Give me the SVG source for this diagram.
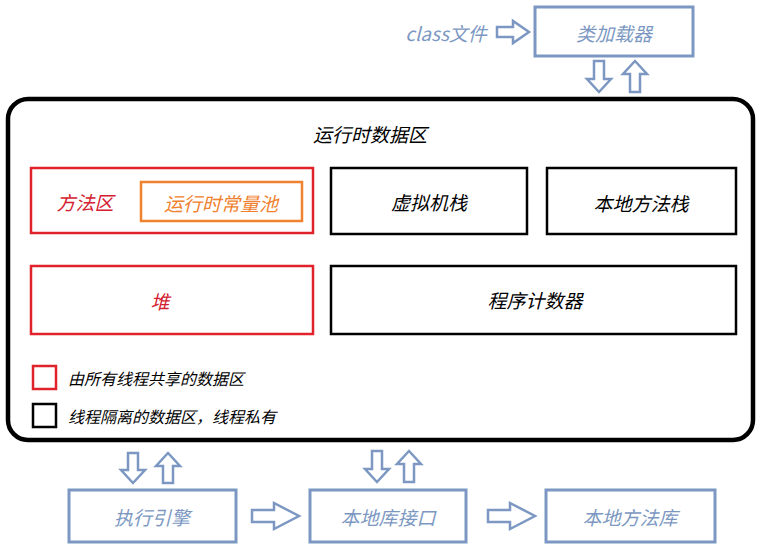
<svg xmlns="http://www.w3.org/2000/svg" width="760" height="547" viewBox="0 0 760 547">
<style>
text{font-family:"Noto Sans CJK SC","Liberation Sans",sans-serif;font-style:italic;font-size:19px;text-anchor:middle;dominant-baseline:central}
.b{fill:#fff;stroke:#7c98c2;stroke-width:3}
.bt{fill:#7c98c2}
.k{fill:#fff;stroke:#000;stroke-width:2.5}
.r{fill:#fff;stroke:#e0222b;stroke-width:2.5}
.o{fill:#fff;stroke:#f0812e;stroke-width:2.5}
.arr{fill:#fff;stroke:#7c98c2;stroke-width:2.5;stroke-linejoin:miter}
.lg{font-size:16px;text-anchor:start}
</style>
<rect width="760" height="547" fill="#fff"/>
<g id="runtime">
<rect x="8" y="99" width="745" height="341" rx="20" fill="#fff" stroke="#000" stroke-width="4.5"/>
<text x="370" y="133">运行时数据区</text>
</g>
<g id="class-file"><text x="446" y="32" class="bt" style="fill:#7c98c2">class文件</text></g>
<g id="classloader"><rect class="b" x="535" y="7" width="158" height="49"/><text x="614" y="32" style="fill:#7c98c2">类加载器</text></g>
<g id="method-area"><rect class="r" x="31" y="168" width="282" height="65"/><text x="85" y="201" style="fill:#d42030">方法区</text></g>
<g id="constant-pool"><rect class="o" x="141" y="182" width="161" height="39"/><text x="221" y="202" style="fill:#f0812e">运行时常量池</text></g>
<g id="vm-stack"><rect class="k" x="331" y="168" width="196" height="66"/><text x="429" y="201">虚拟机栈</text></g>
<g id="native-stack"><rect class="k" x="547" y="168" width="189" height="66"/><text x="641" y="202">本地方法栈</text></g>
<g id="heap"><rect class="r" x="31" y="266" width="282" height="68"/><text x="160" y="300" style="fill:#d42030">堆</text></g>
<g id="pc"><rect class="k" x="331" y="266" width="405" height="68"/><text x="535" y="299">程序计数器</text></g>
<g id="legend-shared"><rect x="33" y="366" width="23" height="23" fill="#fff" stroke="#e0222b" stroke-width="2.5"/><text class="lg" x="68" y="378">由所有线程共享的数据区</text></g>
<g id="legend-private"><rect x="33" y="404" width="23" height="23" fill="#fff" stroke="#000" stroke-width="2.5"/><text class="lg" x="68" y="416">线程隔离的数据区，线程私有</text></g>
<g id="exec-engine"><rect class="b" x="69" y="490" width="167" height="52"/><text x="152" y="516" style="fill:#7c98c2">执行引擎</text></g>
<g id="native-if"><rect class="b" x="310" y="490" width="156" height="52"/><text x="388" y="516" style="fill:#7c98c2">本地库接口</text></g>
<g id="native-lib"><rect class="b" x="546" y="490" width="169" height="52"/><text x="630" y="516" style="fill:#7c98c2">本地方法库</text></g>
<g id="connectors">
<path class="arr" d="M497,27 H513 V21 L529,32 L513,43 V37 H497 Z"/>
<path class="arr" d="M594,61 H604 V79 H611 L599,92 L587,79 H594 Z"/>
<path class="arr" d="M630,92 H640 V74 H647 L635,61 L623,74 H630 Z"/>
<path class="arr" d="M128,453 H138 V470 H145 L133,483 L121,470 H128 Z"/>
<path class="arr" d="M163,483 H173 V466 H180 L168,453 L156,466 H163 Z"/>
<path class="arr" d="M372,451 H382 V469 H389 L377,482 L365,469 H372 Z"/>
<path class="arr" d="M404,482 H414 V464 H421 L409,451 L397,464 H404 Z"/>
<path class="arr" d="M252,510 H274 V503 L299,516 L274,529 V522 H252 Z"/>
<path class="arr" d="M488,510 H510 V503 L535,516 L510,529 V522 H488 Z"/>
</g>
</svg>
